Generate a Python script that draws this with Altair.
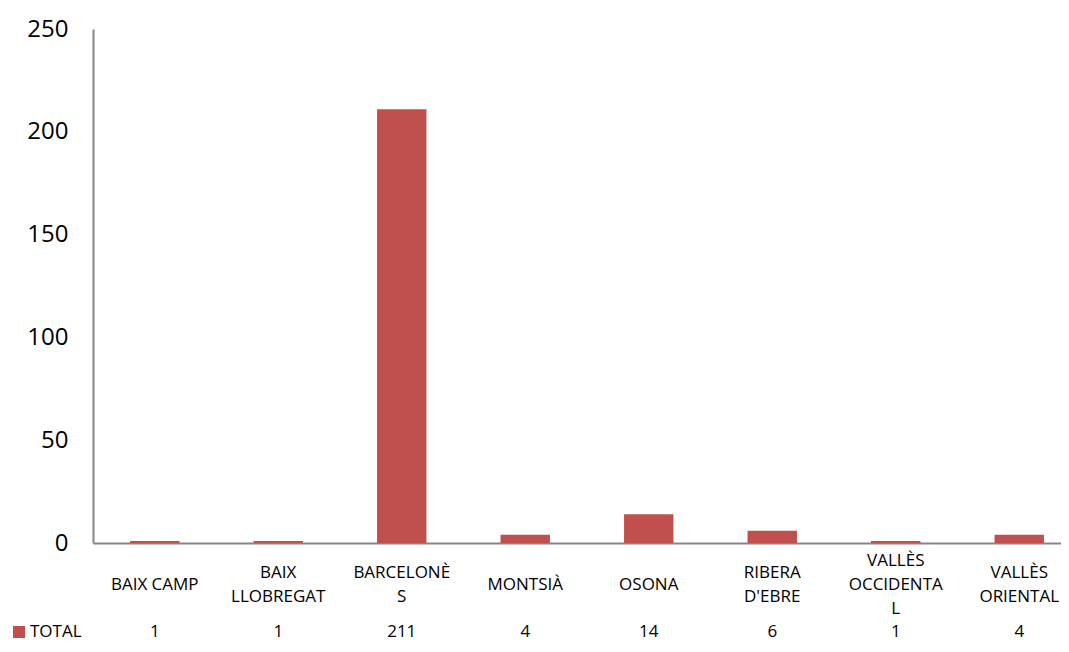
import altair as alt
import pandas as pd

categories = ["BAIX CAMP", "BAIX LLOBREGAT", "BARCELONÈS", "MONTSIÀ", "OSONA",
              "RIBERA D'EBRE", "VALLÈS OCCIDENTAL", "VALLÈS ORIENTAL"]
wrapped_labels = ["BAIX CAMP", "BAIX\nLLOBREGAT", "BARCELONÈ\nS", "MONTSIÀ", "OSONA",
                  "RIBERA\nD'EBRE", "VALLÈS\nOCCIDENTA\nL", "VALLÈS\nORIENTAL"]
totals = [1, 1, 211, 4, 14, 6, 1, 4]
series_name = "TOTAL"
y_ticks = [0, 50, 100, 150, 200, 250]

BAR_COLOR = "#C0504D"
AXIS_COLOR = "#868686"
PAD_L, PAD_T = 85, 21
W_VIEW, W_RANGE, H = 968, 988, 514
LINE_H = 24
FS = 17

df = pd.DataFrame({"category": categories, "total": totals})

label_rows = []
for cat, wl in zip(categories, wrapped_labels):
    parts = wl.split("\n")
    for i, p in enumerate(parts):
        label_rows.append({"category": cat, "line": p, "line_no": i, "n_lines": len(parts)})
labels_df = pd.DataFrame(label_rows)
legend_df = pd.DataFrame({"name": [series_name]})

x_scale = alt.Scale(range=[0, W_RANGE], paddingInner=0.6, paddingOuter=0.3)

bars = alt.Chart(df).mark_bar(color=BAR_COLOR).encode(
    x=alt.X("category:N", sort=categories, scale=x_scale,
            axis=alt.Axis(title=None, labels=False, ticks=False,
                          domainColor=AXIS_COLOR, domainWidth=2)),
    y=alt.Y("total:Q",
            scale=alt.Scale(domain=[0, 250], nice=False),
            axis=alt.Axis(title=None, values=y_ticks, ticks=False, grid=False,
                          labelFontSize=24, labelPadding=25, labelColor="#000000",
                          domainColor=AXIS_COLOR, domainWidth=2)),
)

cat_labels = alt.Chart(labels_df).transform_calculate(
    ypix=f"{H + 42} + (datum.line_no - (datum.n_lines - 1) / 2) * {LINE_H}"
).mark_text(
    fontSize=FS, baseline="middle", align="center", color="#000000"
).encode(
    x=alt.X("category:N", sort=categories),
    y=alt.Y("ypix:Q", scale=None),
    text="line:N",
)

value_labels = alt.Chart(df).mark_text(
    fontSize=FS, baseline="middle", align="center", color="#000000"
).encode(
    x=alt.X("category:N", sort=categories),
    y=alt.value(H + 89),
    text="total:Q",
)

legend_square = alt.Chart(legend_df).mark_square(
    color=BAR_COLOR, size=144, opacity=1
).encode(x=alt.value(-74), y=alt.value(H + 89))

legend_text = alt.Chart(legend_df).mark_text(
    fontSize=FS, baseline="middle", align="left", color="#000000"
).encode(x=alt.value(-63), y=alt.value(H + 89), text="name:N")

chart = alt.layer(
    bars, cat_labels, value_labels, legend_square, legend_text
).properties(
    width=W_VIEW, height=H,
    autosize=alt.AutoSizeParams(type="none"),
    padding={"left": PAD_L, "top": PAD_T, "right": 0, "bottom": 101},
).configure(
    font="Open Sans",
).configure_view(
    stroke=None,
)

chart.save("out.html", embed_options={"renderer": "svg", "actions": False})
